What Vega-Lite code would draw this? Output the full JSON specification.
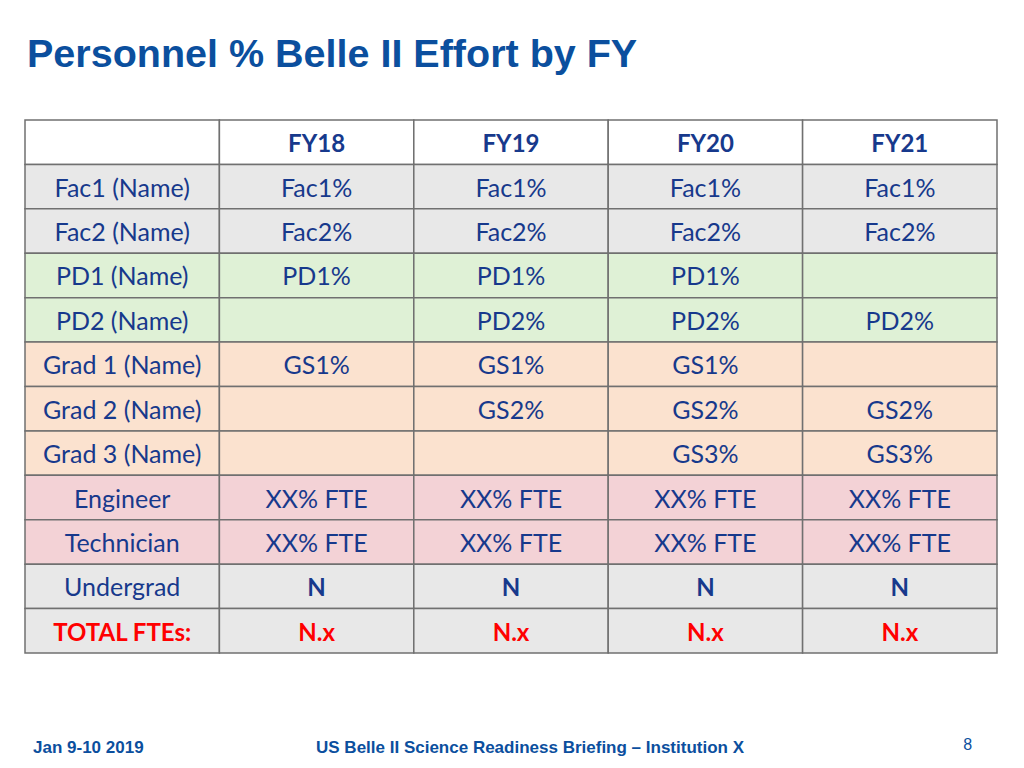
{
  "$schema": "https://vega.github.io/schema/vega-lite/v6.json",
  "width": 1024,
  "height": 768,
  "autosize": {"type": "none"},
  "padding": 0,
  "background": "white",
  "config": {"view": {"stroke": null}},
  "datasets": {
    "cells": [
      {"r": "header", "c": "label", "t": ""},
      {"r": "header", "c": "FY18", "t": "FY18"},
      {"r": "header", "c": "FY19", "t": "FY19"},
      {"r": "header", "c": "FY20", "t": "FY20"},
      {"r": "header", "c": "FY21", "t": "FY21"},
      {"r": "Fac1 (Name)", "c": "label", "t": "Fac1 (Name)"},
      {"r": "Fac1 (Name)", "c": "FY18", "t": "Fac1%"},
      {"r": "Fac1 (Name)", "c": "FY19", "t": "Fac1%"},
      {"r": "Fac1 (Name)", "c": "FY20", "t": "Fac1%"},
      {"r": "Fac1 (Name)", "c": "FY21", "t": "Fac1%"},
      {"r": "Fac2 (Name)", "c": "label", "t": "Fac2 (Name)"},
      {"r": "Fac2 (Name)", "c": "FY18", "t": "Fac2%"},
      {"r": "Fac2 (Name)", "c": "FY19", "t": "Fac2%"},
      {"r": "Fac2 (Name)", "c": "FY20", "t": "Fac2%"},
      {"r": "Fac2 (Name)", "c": "FY21", "t": "Fac2%"},
      {"r": "PD1 (Name)", "c": "label", "t": "PD1 (Name)"},
      {"r": "PD1 (Name)", "c": "FY18", "t": "PD1%"},
      {"r": "PD1 (Name)", "c": "FY19", "t": "PD1%"},
      {"r": "PD1 (Name)", "c": "FY20", "t": "PD1%"},
      {"r": "PD1 (Name)", "c": "FY21", "t": ""},
      {"r": "PD2 (Name)", "c": "label", "t": "PD2 (Name)"},
      {"r": "PD2 (Name)", "c": "FY18", "t": ""},
      {"r": "PD2 (Name)", "c": "FY19", "t": "PD2%"},
      {"r": "PD2 (Name)", "c": "FY20", "t": "PD2%"},
      {"r": "PD2 (Name)", "c": "FY21", "t": "PD2%"},
      {"r": "Grad 1 (Name)", "c": "label", "t": "Grad 1 (Name)"},
      {"r": "Grad 1 (Name)", "c": "FY18", "t": "GS1%"},
      {"r": "Grad 1 (Name)", "c": "FY19", "t": "GS1%"},
      {"r": "Grad 1 (Name)", "c": "FY20", "t": "GS1%"},
      {"r": "Grad 1 (Name)", "c": "FY21", "t": ""},
      {"r": "Grad 2 (Name)", "c": "label", "t": "Grad 2 (Name)"},
      {"r": "Grad 2 (Name)", "c": "FY18", "t": ""},
      {"r": "Grad 2 (Name)", "c": "FY19", "t": "GS2%"},
      {"r": "Grad 2 (Name)", "c": "FY20", "t": "GS2%"},
      {"r": "Grad 2 (Name)", "c": "FY21", "t": "GS2%"},
      {"r": "Grad 3 (Name)", "c": "label", "t": "Grad 3 (Name)"},
      {"r": "Grad 3 (Name)", "c": "FY18", "t": ""},
      {"r": "Grad 3 (Name)", "c": "FY19", "t": ""},
      {"r": "Grad 3 (Name)", "c": "FY20", "t": "GS3%"},
      {"r": "Grad 3 (Name)", "c": "FY21", "t": "GS3%"},
      {"r": "Engineer", "c": "label", "t": "Engineer"},
      {"r": "Engineer", "c": "FY18", "t": "XX% FTE"},
      {"r": "Engineer", "c": "FY19", "t": "XX% FTE"},
      {"r": "Engineer", "c": "FY20", "t": "XX% FTE"},
      {"r": "Engineer", "c": "FY21", "t": "XX% FTE"},
      {"r": "Technician", "c": "label", "t": "Technician"},
      {"r": "Technician", "c": "FY18", "t": "XX% FTE"},
      {"r": "Technician", "c": "FY19", "t": "XX% FTE"},
      {"r": "Technician", "c": "FY20", "t": "XX% FTE"},
      {"r": "Technician", "c": "FY21", "t": "XX% FTE"},
      {"r": "Undergrad", "c": "label", "t": "Undergrad"},
      {"r": "Undergrad", "c": "FY18", "t": "N"},
      {"r": "Undergrad", "c": "FY19", "t": "N"},
      {"r": "Undergrad", "c": "FY20", "t": "N"},
      {"r": "Undergrad", "c": "FY21", "t": "N"},
      {"r": "TOTAL FTEs:", "c": "label", "t": "TOTAL FTEs:"},
      {"r": "TOTAL FTEs:", "c": "FY18", "t": "N.x"},
      {"r": "TOTAL FTEs:", "c": "FY19", "t": "N.x"},
      {"r": "TOTAL FTEs:", "c": "FY20", "t": "N.x"},
      {"r": "TOTAL FTEs:", "c": "FY21", "t": "N.x"}
    ]
  },
  "layer": [
    {
      "data": {"name": "cells"},
      "mark": {"type": "rect", "stroke": "#707070", "strokeWidth": 1.5},
      "encoding": {
        "x": {
          "field": "c", "type": "nominal", "axis": null,
          "scale": {"domain": ["label", "FY18", "FY19", "FY20", "FY21"], "range": [25, 997], "paddingInner": 0, "paddingOuter": 0}
        },
        "y": {
          "field": "r", "type": "nominal", "axis": null,
          "scale": {
            "domain": ["header", "Fac1 (Name)", "Fac2 (Name)", "PD1 (Name)", "PD2 (Name)", "Grad 1 (Name)", "Grad 2 (Name)", "Grad 3 (Name)", "Engineer", "Technician", "Undergrad", "TOTAL FTEs:"],
            "range": [120, 653], "paddingInner": 0, "paddingOuter": 0
          }
        },
        "fill": {
          "field": "r", "type": "nominal", "legend": null,
          "scale": {
            "domain": ["header", "Fac1 (Name)", "Fac2 (Name)", "PD1 (Name)", "PD2 (Name)", "Grad 1 (Name)", "Grad 2 (Name)", "Grad 3 (Name)", "Engineer", "Technician", "Undergrad", "TOTAL FTEs:"],
            "range": ["#ffffff", "#e8e8e8", "#e8e8e8", "#dff1d6", "#dff1d6", "#fbe2cf", "#fbe2cf", "#fbe2cf", "#f3d2d6", "#f3d2d6", "#e8e8e8", "#e8e8e8"]
          }
        }
      }
    },
    {
      "data": {"name": "cells"},
      "transform": [{"filter": "datum.r != 'header' && datum.r != 'TOTAL FTEs:' && !(datum.r == 'Undergrad' && datum.c != 'label')"}],
      "mark": {"type": "text", "font": "Lato", "fontSize": 25, "color": "#17398c", "baseline": "middle", "align": "center", "dy": 2},
      "encoding": {
        "x": {"field": "c", "type": "nominal"},
        "y": {"field": "r", "type": "nominal"},
        "text": {"field": "t"}
      }
    },
    {
      "data": {"name": "cells"},
      "transform": [{"filter": "datum.r == 'header' || (datum.r == 'Undergrad' && datum.c != 'label')"}],
      "mark": {"type": "text", "font": "Lato", "fontSize": 24, "fontWeight": "bold", "color": "#17398c", "baseline": "middle", "align": "center", "dy": 3},
      "encoding": {
        "x": {"field": "c", "type": "nominal"},
        "y": {"field": "r", "type": "nominal"},
        "text": {"field": "t"}
      }
    },
    {
      "data": {"name": "cells"},
      "transform": [{"filter": "datum.r == 'TOTAL FTEs:'"}],
      "mark": {"type": "text", "font": "Lato", "fontSize": 24, "fontWeight": "bold", "color": "#ff0000", "baseline": "middle", "align": "center", "dy": 3},
      "encoding": {
        "x": {"field": "c", "type": "nominal"},
        "y": {"field": "r", "type": "nominal"},
        "text": {"field": "t"}
      }
    },
    {
      "data": {"values": [{"t": "Personnel % Belle II Effort by FY"}]},
      "mark": {"type": "text", "font": "Liberation Sans", "fontSize": 39.5, "fontWeight": "bold", "color": "#0b4f9e", "align": "left", "baseline": "alphabetic", "dx": 2, "dy": -53},
      "encoding": {
        "x": {"datum": "label", "type": "nominal", "bandPosition": 0},
        "y": {"datum": "header", "type": "nominal", "bandPosition": 0},
        "text": {"field": "t"}
      }
    },
    {
      "data": {"values": [{"t": "Jan 9-10 2019"}]},
      "mark": {"type": "text", "font": "Liberation Sans", "fontSize": 17, "fontWeight": "bold", "color": "#0b4f9e", "align": "left", "baseline": "alphabetic", "dx": 8, "dy": 100},
      "encoding": {
        "x": {"datum": "label", "type": "nominal", "bandPosition": 0},
        "y": {"datum": "TOTAL FTEs:", "type": "nominal", "bandPosition": 1},
        "text": {"field": "t"}
      }
    },
    {
      "data": {"values": [{"t": "US Belle II Science Readiness Briefing – Institution X"}]},
      "mark": {"type": "text", "font": "Liberation Sans", "fontSize": 17, "fontWeight": "bold", "color": "#0b4f9e", "align": "center", "baseline": "alphabetic", "dx": 19, "dy": 100},
      "encoding": {
        "x": {"datum": "FY19", "type": "nominal", "bandPosition": 0.5},
        "y": {"datum": "TOTAL FTEs:", "type": "nominal", "bandPosition": 1},
        "text": {"field": "t"}
      }
    },
    {
      "data": {"values": [{"t": "8"}]},
      "mark": {"type": "text", "font": "Liberation Sans", "fontSize": 16, "color": "#0b4f9e", "align": "center", "baseline": "alphabetic", "dx": 68, "dy": 97},
      "encoding": {
        "x": {"datum": "FY21", "type": "nominal", "bandPosition": 0.5},
        "y": {"datum": "TOTAL FTEs:", "type": "nominal", "bandPosition": 1},
        "text": {"field": "t"}
      }
    }
  ]
}
